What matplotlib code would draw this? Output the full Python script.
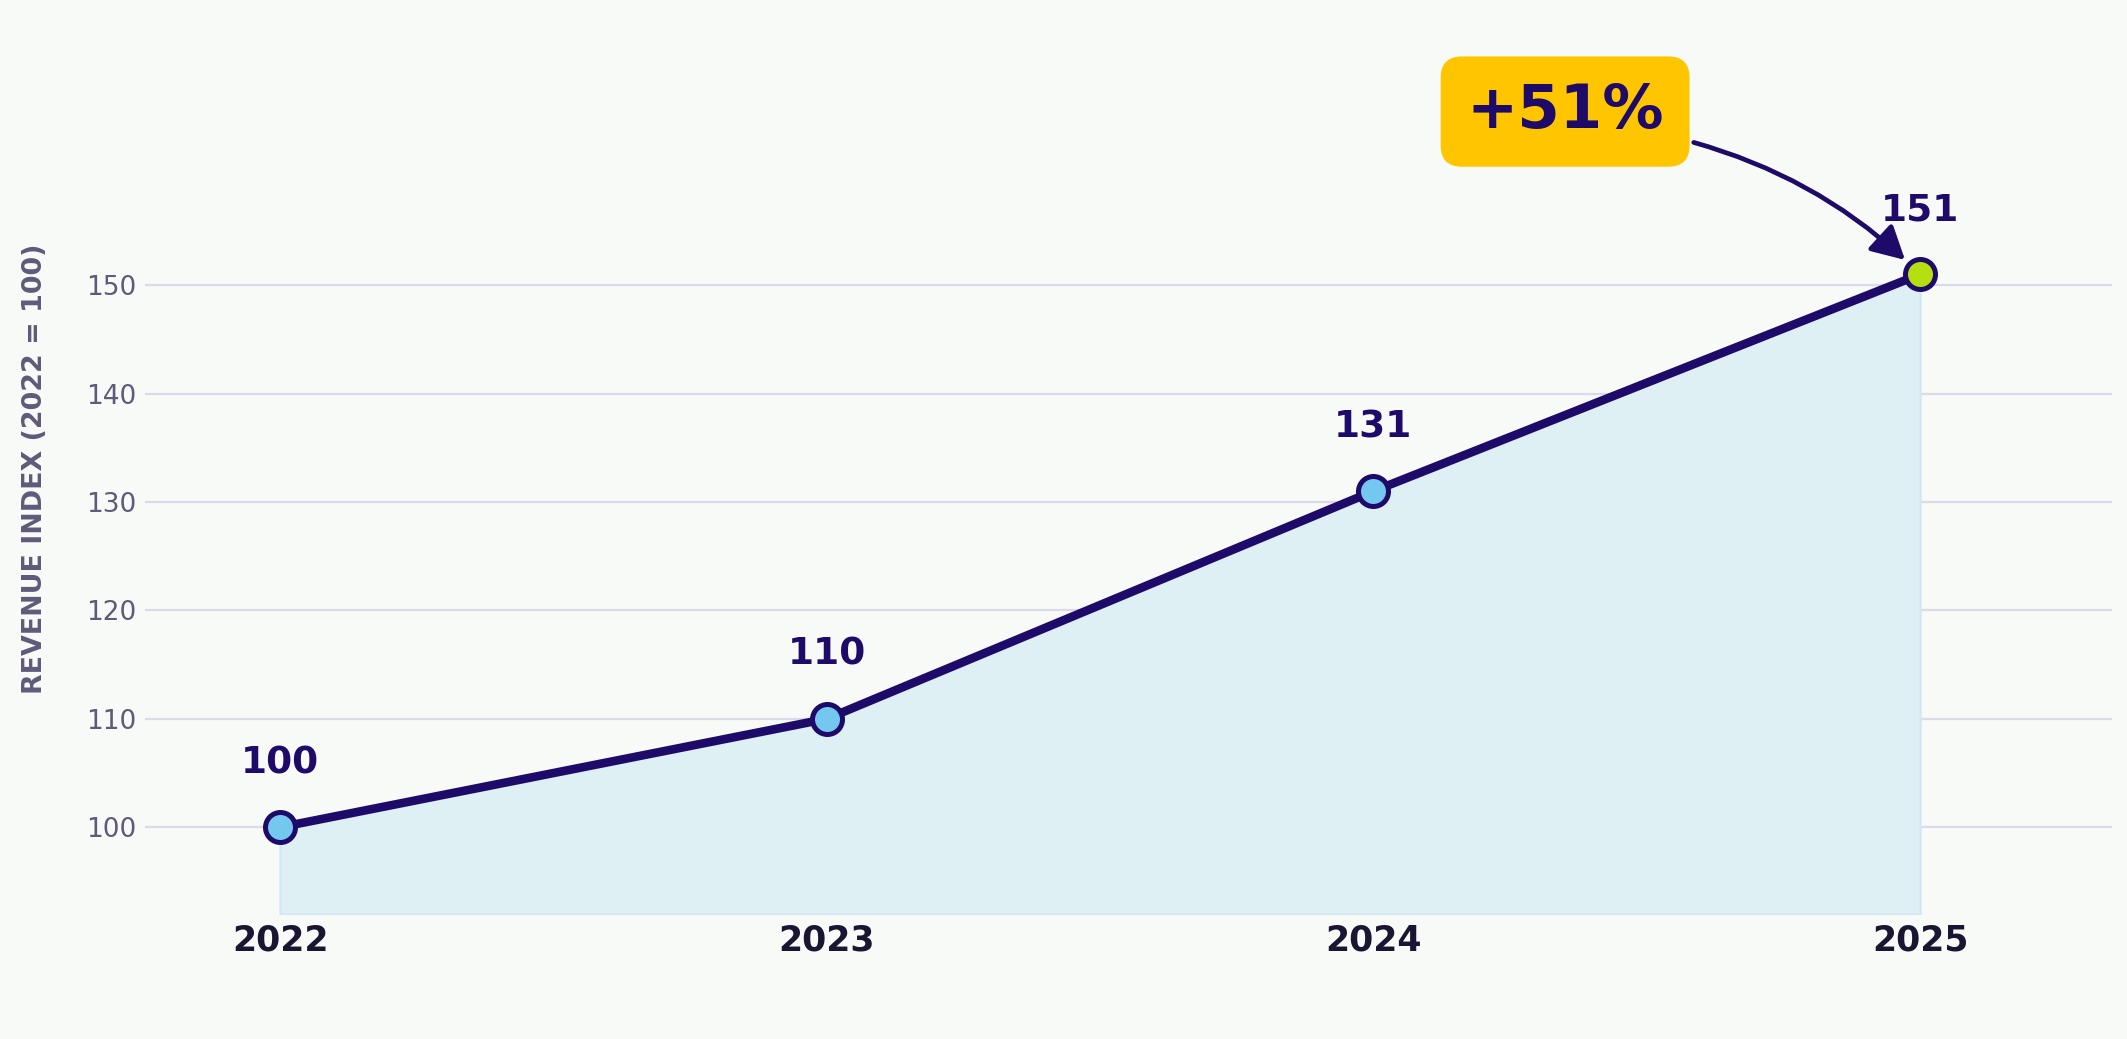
import matplotlib.pyplot as plt

plt.rcParams['font.family'] = ['DejaVu Sans']

years = ['2022', '2023', '2024', '2025']
index = [100, 110, 131, 151]
growth_label = '+51%'
yticks = [100, 110, 120, 130, 140, 150]

ink = '#1e0a68'
bg = '#f8faf8'
xs = list(range(len(years)))

fig = plt.figure(figsize=(10.635, 5.195), dpi=200, facecolor=bg)
ax = fig.add_axes([145 / 2127, 1 - 914 / 1039, 1967 / 2127, 889 / 1039])
ax.set_facecolor(bg)

ax.set_xlim(-0.247, 3.351)
ax.set_ylim(92, 174)

ax.fill_between(xs, 92, index, color='#dff0f5', edgecolor='#cfe8f3', linewidth=0.8, zorder=1)
ax.plot(xs, index, color=ink, linewidth=3.1, solid_capstyle='round', zorder=3)
face = ['#74c7ef'] * (len(xs) - 1) + ['#b5e00f']
for x, v, fc in zip(xs, index, face):
    ax.plot([x], [v], 'o', markersize=10.8, markerfacecolor=fc, markeredgecolor=ink,
            markeredgewidth=1.8, zorder=4)
    ax.annotate(str(v), (x, v), xytext=(0, 23), textcoords='offset points',
                ha='center', va='center', fontsize=13.5, fontweight='bold', color=ink, zorder=5)

ax.set_yticks(yticks)
ax.set_xticks(xs)
ax.set_xticklabels(years, fontsize=12.5, fontweight='bold', color='#1a1530')
ax.tick_params(axis='y', length=0, pad=3, labelsize=9.5, labelcolor='#5f5a7a')
ax.tick_params(axis='x', length=0, pad=3.5)
ax.grid(axis='y', color='#dcd9ea', linewidth=0.8, zorder=0)
ax.set_axisbelow(True)
for s in ax.spines.values():
    s.set_visible(False)

ax.set_ylabel('REVENUE INDEX (2022 = 100)', fontsize=9.7, fontweight='bold', color='#5f5a7a')
ax.yaxis.set_label_coords(-0.0493, (133.1 - 92) / (174 - 92))

# growth callout
ax.annotate(growth_label, (xs[-1], index[-1]), xytext=(-127.8, 58.6), textcoords='offset points',
            ha='center', va='center', fontsize=22, fontweight='bold', color=ink,
            bbox=dict(boxstyle='round,pad=0.42,rounding_size=0.35', facecolor='#ffc600',
                      edgecolor='none'), annotation_clip=False, zorder=6)
ax.annotate('', (xs[-1], index[-1]), xytext=(-81.5, 47.5), textcoords='offset points',
            arrowprops=dict(arrowstyle='-|>,head_length=0.5,head_width=0.27', color=ink,
                            linewidth=1.7, connectionstyle='arc3,rad=-0.13',
                            mutation_scale=20, shrinkA=0, shrinkB=7.5,
                            capstyle='round'),
            annotation_clip=False, zorder=6)

fig.savefig('out.png', dpi=200, facecolor=bg)
